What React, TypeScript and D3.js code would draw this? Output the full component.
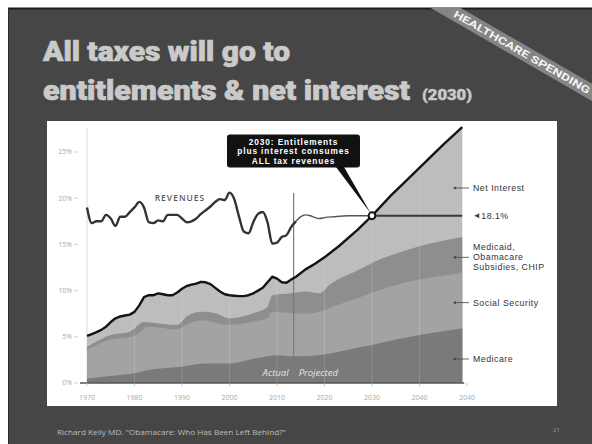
import React from 'react';
import * as d3 from 'd3';

const W = 592;
const H = 444;

// ---------- text ----------
const titleLines = ['All taxes will go to', 'entitlements & net interest'];
const titleNote = '(2030)';
const ribbonText = 'HEALTHCARE SPENDING';
const footerText = 'Richard Kelly MD. "Obamacare: Who Has Been Left Behind?"';
const pageNumber = '21';
const calloutLines = ['2030: Entitlements', 'plus interest consumes', 'ALL tax revenues'];
const revenueLabel = 'REVENUES';
const actualLabel = 'Actual';
const projectedLabel = 'Projected';
const crossLabel = '18.1%';

// ---------- axes ----------
const yTickValues = [0, 5, 10, 15, 20, 25];
const yTickLabels = ['0%', '5%', '10%', '15%', '20%', '25%'];
const xTickYears = [1970, 1980, 1990, 2000, 2010, 2020, 2030, 2040, 2050];
const xTickLabels = ['1970', '1980', '1990', '2000', '2010', '2020', '2030', '2040', '2040'];

// ---------- data (% of GDP) ----------
const revenueYears = [1970, 1971, 1972, 1973, 1974, 1975, 1976, 1977, 1978, 1979, 1980, 1981, 1982, 1983, 1984, 1985, 1986, 1987, 1988, 1989, 1990, 1991, 1992, 1993, 1994, 1995, 1996, 1997, 1998, 1999, 2000, 2001, 2002, 2003, 2004, 2005, 2006, 2007, 2008, 2009, 2010, 2011, 2012, 2013, 2014];
const revenueValues = [19.0, 17.3, 17.5, 17.5, 18.2, 17.8, 17.0, 18.0, 18.0, 18.5, 19.0, 19.6, 19.0, 17.4, 17.3, 17.6, 17.5, 18.2, 18.2, 18.2, 17.8, 17.4, 17.5, 17.8, 18.3, 18.7, 19.1, 19.6, 19.9, 19.8, 20.6, 19.9, 18.0, 16.4, 16.2, 17.4, 18.3, 18.5, 17.4, 15.1, 15.2, 15.8, 16.0, 16.9, 17.5];
const revenueProjYears = [2014, 2015, 2016, 2017, 2018, 2019, 2020, 2022, 2025, 2030];
const revenueProjValues = [17.5, 18.0, 18.2, 18.1, 17.9, 17.8, 17.9, 18.0, 18.1, 18.1];
const revenueFlatYears = [2030, 2049];
const revenueFlatValues = [18.1, 18.1];

// total = entitlements + net interest (top of stack)
const totalYears = [1970, 1971, 1972, 1973, 1974, 1975, 1976, 1977, 1978, 1979, 1980, 1981, 1982, 1983, 1984, 1985, 1986, 1987, 1988, 1989, 1990, 1991, 1992, 1993, 1994, 1995, 1996, 1997, 1998, 1999, 2000, 2001, 2002, 2003, 2004, 2005, 2006, 2007, 2008, 2009, 2010, 2011, 2012, 2013, 2014, 2016, 2018, 2020, 2023, 2027, 2030, 2034, 2037, 2041, 2045, 2049];
const totalValues = [5.1, 5.3, 5.5, 5.75, 6.1, 6.6, 7.0, 7.2, 7.3, 7.4, 7.7, 8.4, 9.3, 9.5, 9.5, 9.7, 9.6, 9.5, 9.5, 9.8, 10.2, 10.5, 10.65, 10.75, 10.95, 10.9, 10.7, 10.3, 9.9, 9.6, 9.5, 9.45, 9.4, 9.4, 9.5, 9.7, 10.0, 10.3, 10.9, 11.5, 11.3, 10.9, 10.85, 11.2, 11.5, 12.3, 12.9, 13.6, 14.8, 16.6, 18.1, 20.3, 21.8, 23.8, 25.8, 27.7];

// cumulative tops of stacked bands
const medicaidTopYears = [1970, 1975, 1979, 1982, 1985, 1989, 1991, 1994, 1997, 2000, 2005, 2008, 2009, 2013, 2016, 2019, 2021, 2024, 2027, 2030, 2035, 2040, 2045, 2049];
const medicaidTopValues = [3.9, 5.2, 5.55, 6.6, 6.45, 6.3, 7.2, 7.7, 7.55, 7.0, 7.55, 8.25, 9.5, 9.7, 9.9, 9.7, 10.6, 11.5, 12.2, 13.0, 14.0, 14.8, 15.4, 15.8];
const ssTopYears = [1970, 1975, 1980, 1983, 1985, 1989, 1991, 1994, 2000, 2005, 2008, 2009, 2013, 2016, 2019, 2022, 2026, 2030, 2035, 2040, 2045, 2049];
const ssTopValues = [3.6, 4.7, 5.1, 6.1, 6.0, 5.8, 6.3, 6.8, 6.3, 6.65, 7.0, 7.7, 7.55, 7.5, 7.7, 8.3, 9.0, 9.8, 10.6, 11.2, 11.6, 11.9];
const medicareTopYears = [1970, 1975, 1980, 1983, 1990, 1995, 2000, 2004, 2008, 2010, 2013, 2016, 2020, 2025, 2030, 2035, 2040, 2045, 2049];
const medicareTopValues = [0.5, 0.75, 1.05, 1.4, 1.75, 2.1, 2.1, 2.5, 2.9, 3.0, 2.9, 2.9, 3.1, 3.6, 4.1, 4.7, 5.2, 5.6, 5.9];

const crossYear = 2030;
const crossValue = 18.1;
const splitYear = 2013.5;

const legendNames = [['Net Interest'], ['Medicaid,', 'Obamacare', 'Subsidies, CHIP'], ['Social Security'], ['Medicare']];

const zip = (xs: number[], ys: number[]) => xs.map((x, i) => [x, ys[i]] as [number, number]);

export default function App() {
  const x = d3.scaleLinear().domain([1970, 2050]).range([87, 467]);
  const y = d3.scaleLinear().domain([0, 25]).range([383, 152]);

  const area = d3.area<[number, number]>()
    .x(d => x(d[0])).y0(y(0)).y1(d => y(d[1]))
    .curve(d3.curveMonotoneX);
  const line = d3.line<[number, number]>()
    .x(d => x(d[0])).y(d => y(d[1]))
    .curve(d3.curveMonotoneX);
  const lineLin = d3.line<[number, number]>()
    .x(d => x(d[0])).y(d => y(d[1]));

  const totalData = zip(totalYears, totalValues);
  const totalArea = area(totalData) as string;

  const cx = x(crossYear);
  const cy = y(crossValue);

  // legend anchor values (vertical positions of labels, in % units)
  const legendAnchors = [21.1, 13.6, 8.7, 2.6];

  const sans = '"Open Sans", "Noto Sans", sans-serif';
  const tight = '"Liberation Sans", Arial, sans-serif';

  return (
    <svg width={W} height={H} style={{ position: 'absolute', left: 0, top: 0 }}>
      <defs>
        <clipPath id="slideClip"><rect x={8} y={8} width={W - 8} height={H - 8} /></clipPath>
        <clipPath id="areaClip"><path d={totalArea} /></clipPath>
      </defs>
      <rect x={0} y={0} width={W} height={H} fill="#ffffff" />
      <rect x={8} y={8} width={W - 8} height={H - 8} fill="#464646" />
      <line x1={8} x2={W} y1={8.5} y2={8.5} stroke="#1c1c1c" strokeWidth={2} />
      <line x1={8.5} x2={8.5} y1={8} y2={H} stroke="#2a2a2a" strokeWidth={1} />

      {/* ribbon */}
      <g clipPath="url(#slideClip)">
        <g transform="translate(522,52) rotate(30)">
          <rect x={-200} y={-7.5} width={400} height={15} fill="#858585" />
          <text x={0} y={3.6} textAnchor="middle" fill="#f4f4f4" fontFamily='"Roboto", sans-serif' fontWeight={700} fontSize={10} textLength={156} lengthAdjust="spacingAndGlyphs">{ribbonText}</text>
        </g>
      </g>

      {/* title */}
      <g fill="#cacaca" stroke="#cacaca" strokeWidth={0.7} fontFamily='"Roboto", sans-serif' fontWeight={900}>
        <text x={43} y={61} fontSize={27.5} textLength={247} lengthAdjust="spacingAndGlyphs">{titleLines[0]}</text>
        <text x={43} y={100} fontSize={27.5} textLength={367} lengthAdjust="spacingAndGlyphs">{titleLines[1]}</text>
        <text x={422} y={100} fontSize={14} strokeWidth={0.4} textLength={50} lengthAdjust="spacingAndGlyphs">{titleNote}</text>
      </g>

      {/* chart panel */}
      <rect x={47} y={121} width={510} height={285} fill="#ffffff" />

      {/* y axis line (1970) */}
      <line x1={x(1970)} x2={x(1970)} y1={128} y2={y(0)} stroke="#dcdcdc" strokeWidth={1} />

      {/* areas, painted back to front */}
      <path d={totalArea} fill="#bdbdbd" />
      <path d={area(zip(medicaidTopYears, medicaidTopValues)) as string} fill="#8e8e8e" />
      <path d={area(zip(ssTopYears, ssTopValues)) as string} fill="#a3a3a3" />
      <path d={area(zip(medicareTopYears, medicareTopValues)) as string} fill="#7a7a7a" />

      {/* faint decade stripes */}
      <g clipPath="url(#areaClip)">
        {xTickYears.slice(1, -1).map(yr => (
          <line key={yr} x1={x(yr)} x2={x(yr)} y1={120} y2={y(0)} stroke="#ffffff" strokeOpacity={0.14} strokeWidth={1.2} />
        ))}
      </g>

      {/* actual / projected divider */}
      <line x1={x(splitYear)} x2={x(splitYear)} y1={193} y2={y(0)} stroke="#7a7a7a" strokeWidth={1.2} />
      <text x={x(splitYear) - 5} y={376} textAnchor="end" fill="#e4e4e4" fontFamily={sans} fontStyle="italic" fontSize={9.5}>{actualLabel}</text>
      <text x={x(splitYear) + 5} y={376} textAnchor="start" fill="#e4e4e4" fontFamily={sans} fontStyle="italic" fontSize={9.5}>{projectedLabel}</text>

      {/* x axis */}
      <line x1={80} x2={x(2049) + 2} y1={y(0)} y2={y(0)} stroke="#555" strokeWidth={1.5} />
      {xTickYears.map((yr, i) => (
        <g key={yr}>
          <line x1={x(yr)} x2={x(yr)} y1={y(0)} y2={y(0) + 3} stroke="#bbb" strokeWidth={0.8} />
          <text x={x(yr)} y={400} textAnchor="middle" fill="#a8a8a8" fontFamily={sans} fontSize={7}>{xTickLabels[i]}</text>
        </g>
      ))}
      {/* y axis labels */}
      {yTickValues.map((v, i) => (
        <g key={v}>
          <line x1={74} x2={78} y1={y(v)} y2={y(v)} stroke="#c8c8c8" strokeWidth={0.8} />
          <text x={72} y={y(v) + 2.4} textAnchor="end" fill="#a8a8a8" fontFamily={sans} fontSize={7}>{yTickLabels[i]}</text>
        </g>
      ))}

      {/* revenues */}
      <path d={line(zip(revenueYears, revenueValues)) as string} fill="none" stroke="#333" strokeWidth={2.4} strokeLinejoin="round" />
      <path d={line(zip(revenueProjYears, revenueProjValues)) as string} fill="none" stroke="#555" strokeWidth={1.4} />
      <path d={lineLin(zip(revenueFlatYears, revenueFlatValues)) as string} fill="none" stroke="#3a3a3a" strokeWidth={1.8} />
      <text x={180} y={201} textAnchor="middle" fill="#5a5a5a" fontFamily={sans} fontWeight={600} fontSize={8.5} letterSpacing={1}>{revenueLabel}</text>

      {/* total entitlements + interest */}
      <path d={lineLin(totalData) as string} fill="none" stroke="#141414" strokeWidth={2.4} strokeLinejoin="round" />

      {/* callout */}
      <polygon points={`336,167 344,167 ${cx - 1},${cy - 2}`} fill="#111" />
      <rect x={227} y={134.5} width={133} height={33} rx={3} fill="#111" />
      {calloutLines.map((t, i) => (
        <text key={i} x={293.5} y={144.5 + i * 9.6} textAnchor="middle" fill="#ffffff" fontFamily={tight} fontWeight={700} fontSize={8.3} letterSpacing={0.9}>{t}</text>
      ))}
      <circle cx={cx} cy={cy} r={3.4} fill="#ffffff" stroke="#111" strokeWidth={2} />

      {/* right legend */}
      {legendNames.map((lines, i) => {
        const ly = y(legendAnchors[i]);
        return (
          <g key={i}>
            <circle cx={455} cy={ly} r={1.3} fill="#444" />
            <line x1={455} x2={469} y1={ly} y2={ly} stroke="#555" strokeWidth={0.9} />
            {lines.map((t, j) => (
              <text key={j} x={473} y={ly + 3 + (j - (lines.length - 1) / 2) * 10} fill="#333" fontFamily={tight} fontSize={8.8} letterSpacing={0.5}>{t}</text>
            ))}
          </g>
        );
      })}
      <path d={`M${x(2049) + 12},${cy} l5,-2.6 v5.2 z`} fill="#444" />
      <text x={x(2049) + 19} y={cy + 3} fill="#333" fontFamily={tight} fontSize={8.8} letterSpacing={0.5}>{crossLabel}</text>

      {/* footer */}
      <text x={57} y={435} fill="#bdbdbd" fontFamily={sans} fontSize={7} textLength={229} lengthAdjust="spacingAndGlyphs">{footerText}</text>
      <text x={553} y={432} fill="#9a9a9a" fontFamily={sans} fontSize={6}>{pageNumber}</text>
    </svg>
  );
}
